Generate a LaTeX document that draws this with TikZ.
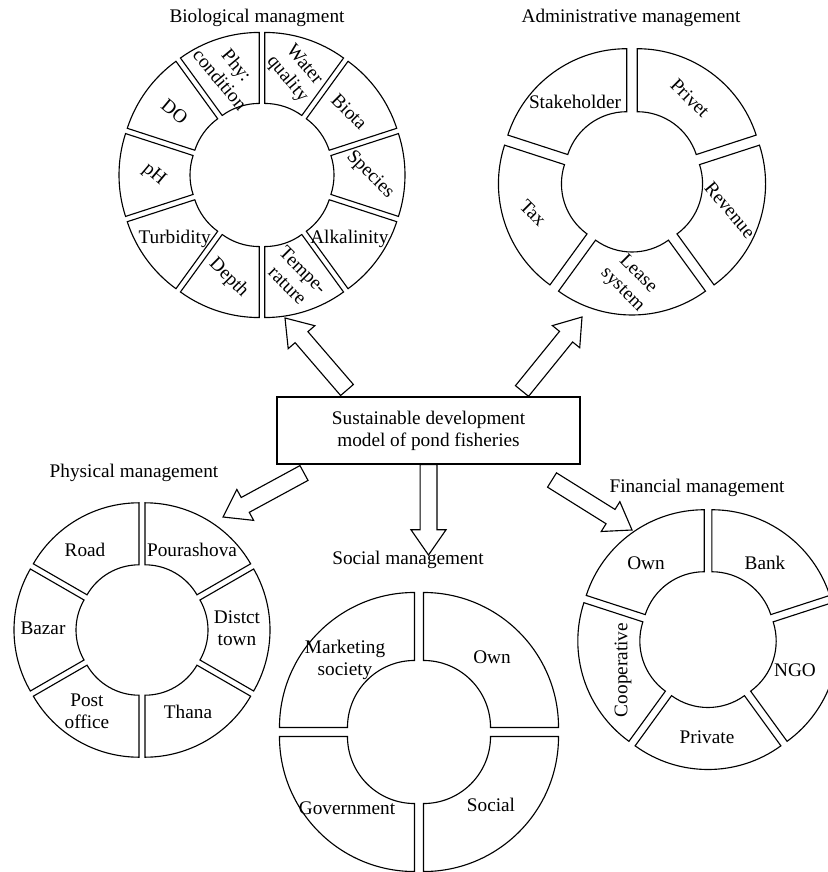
\documentclass[tikz,border=0pt]{standalone}
\usepackage{fontspec}
\setmainfont{Liberation Serif}
\usetikzlibrary{calc}

\tikzset{
  segment/.style={draw, line width=.8pt, fill=white},
  seglabel/.style={align=center, inner sep=0pt},
  heading/.style={inner sep=0pt},
  modelbox/.style={draw, line width=.8pt, align=center, minimum width=215.5pt, minimum height=47.7pt},
  hollow/.style={draw, line width=.8pt, fill=white, line join=miter}
}
% hollow block arrow from #1 to #2
\newcommand\fatarrow[2]{%
  \path ($(#2)!18pt!(#1)$) coordinate (neck);
  \draw[hollow] ($(#1)!6pt!90:(#2)$) -- ($(neck)!6pt!90:(#2)$)
    -- ($(neck)!12.5pt!90:(#2)$) -- (#2) -- ($(neck)!12.5pt!-90:(#2)$)
    -- ($(neck)!6pt!-90:(#2)$) -- ($(#1)!6pt!-90:(#2)$) -- cycle;}

\begin{document}
\begin{tikzpicture}[x=.025cm, y=-.025cm, font=\fontsize{13.7}{15.6}\selectfont]
  \useasboundingbox (0,0) rectangle (827,872);

  % biological
  \node[heading] (biohead) at (257,18) {Biological managment};
  \begin{scope}[shift={(262,175)}]
    \foreach \a in {-90,-54,...,234}
      \draw[segment, shift={(\a+18:9)}] (\a:63) arc[start angle=\a, delta angle=36, radius=63]
        -- (\a+36:134) arc[start angle=\a+36, delta angle=-36, radius=134] -- cycle;
    \foreach \a/\t/\r [count=\i] in {-72/{Water\\quality}/-50, -36/Biota/-45, 0/Species/-45,
        36/Alkalinity/0, 72/{Tempe-\\rature}/-45, 108/Depth/-45, 144/Turbidity/0,
        180/pH/-40, 216/DO/-40, 252/{Phy:\\condition}/-50}
      \node[seglabel, rotate=\r] (bio\i) at (\a:108) {\t};
  \end{scope}

  % administrative
  \node[heading] (admhead) at (631,18) {Administrative management};
  \begin{scope}[shift={(632,181)}]
    \foreach \a in {-90,-18,...,198}
      \draw[segment, shift={(\a+36:9)}] (\a:62) arc[start angle=\a, delta angle=72, radius=62]
        -- (\a+72:125) arc[start angle=\a+72, delta angle=-72, radius=125] -- cycle;
    \foreach \p/\t/\r [count=\i] in {{(-57,-79)}/Stakeholder/0, {(58,-83)}/Privet/-45,
        {(98,29)}/Revenue/-50, {(-2,101)}/{Lease\\system}/-45, {(-99,32)}/Tax/-45}
      \node[seglabel, rotate=\r] (adm\i) at \p {\t};
  \end{scope}

  % physical
  \node[heading] (phyhead) at (134,473) {Physical management};
  \begin{scope}[shift={(142,630)}]
    \foreach \a in {-90,-30,...,210}
      \draw[segment, shift={(\a+30:6)}] (\a:60) arc[start angle=\a, delta angle=60, radius=60]
        -- (\a+60:122) arc[start angle=\a+60, delta angle=-60, radius=122] -- cycle;
    \foreach \p/\t [count=\i] in {{(-57,-80)}/Road, {(50,-80)}/Pourashova, {(95,-2)}/{Distct\\town},
        {(46,82)}/Thana, {(-55,81)}/{Post\\office}, {(-99,-2)}/Bazar}
      \node[seglabel] (phy\i) at \p {\t};
  \end{scope}

  % social
  \node[heading] (sochead) at (408,560) {Social management};
  \begin{scope}[shift={(419,732)}]
    \foreach \a in {0,90,180,270}
      \draw[segment, shift={(\a+45:6.4)}] (\a:67) arc[start angle=\a, delta angle=90, radius=67]
        -- (\a+90:135) arc[start angle=\a+90, delta angle=-90, radius=135] -- cycle;
    \foreach \p/\t [count=\i] in {{(-74,-72)}/{Marketing\\society}, {(73,-75)}/Own,
        {(-72,76)}/Government, {(72,73)}/Social}
      \node[seglabel] (soc\i) at \p {\t};
  \end{scope}

  % financial
  \node[heading] (finhead) at (697,488) {Financial management};
  \begin{scope}[shift={(708,639)}]
    \foreach \a in {-90,-18,...,198}
      \draw[segment, shift={(\a+36:6.5)}] (\a:62) arc[start angle=\a, delta angle=72, radius=62]
        -- (\a+72:124) arc[start angle=\a+72, delta angle=-72, radius=124] -- cycle;
    \foreach \p/\t/\r [count=\i] in {{(-62,-76)}/Own/0, {(57,-76)}/Bank/0, {(87,31)}/NGO/0,
        {(-1,98)}/Private/0, {(-85,31)}/Cooperative/90}
      \node[seglabel, rotate=\r] (fin\i) at \p {\t};
  \end{scope}

  % centre and arrows
  \node[modelbox] (model) at (428.5,430.5) {Sustainable development\\model of pond fisheries};
  \coordinate (bioTail) at (347,390);  \coordinate (bioTip) at (285,318);
  \coordinate (admTail) at (522,391);  \coordinate (admTip) at (582,317);
  \coordinate (phyTail) at (304,473);  \coordinate (phyTip) at (223,517);
  \coordinate (finTail) at (552,480);  \coordinate (finTip) at (632,530);
  \coordinate (socTip) at (428.5,555);
  \fatarrow{bioTail}{bioTip}
  \fatarrow{admTail}{admTip}
  \fatarrow{phyTail}{phyTip}
  \fatarrow{finTail}{finTip}
  \fatarrow{model.south}{socTip}
\end{tikzpicture}
\end{document}
